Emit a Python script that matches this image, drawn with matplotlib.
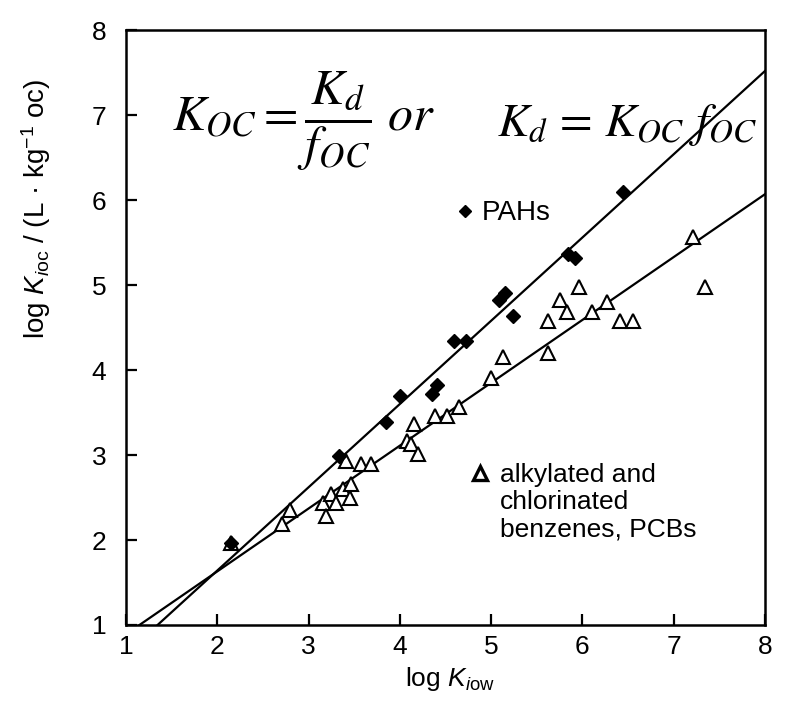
import numpy as np
import matplotlib
matplotlib.use("Agg")
import matplotlib.pyplot as plt
from matplotlib.lines import Line2D

plt.rcParams['font.family'] = ['Liberation Sans', 'DejaVu Sans']
plt.rcParams['mathtext.fontset'] = 'custom'
plt.rcParams['mathtext.rm'] = 'Liberation Sans'
plt.rcParams['mathtext.it'] = 'Liberation Sans:italic'
plt.rcParams['mathtext.bf'] = 'Liberation Sans:bold'

# ---- data (log Kow, log Koc) ----
pah_logkow = [2.15, 3.33, 3.85, 4.00, 4.35, 4.41, 4.59, 4.72, 5.09, 5.15, 5.24, 5.84, 5.92, 6.45]
pah_logkoc = [1.97, 2.99, 3.39, 3.70, 3.72, 3.82, 4.34, 4.34, 4.83, 4.91, 4.64, 5.37, 5.32, 6.10]

benz_logkow = [2.15, 2.71, 2.80, 3.16, 3.19, 3.25, 3.30, 3.38, 3.45, 3.47, 3.41, 3.58, 3.69,
               4.08, 4.12, 4.16, 4.20, 4.39, 4.52, 4.65, 5.00, 5.13, 5.62, 5.62, 5.75, 5.83,
               5.96, 6.10, 6.27, 6.41, 6.55, 7.21, 7.34]
benz_logkoc = [1.96, 2.19, 2.35, 2.43, 2.28, 2.54, 2.44, 2.60, 2.50, 2.66, 2.93, 2.90, 2.89,
               3.16, 3.13, 3.37, 3.01, 3.46, 3.46, 3.57, 3.91, 4.15, 4.20, 4.58, 4.82, 4.68,
               4.98, 4.68, 4.80, 4.58, 4.58, 5.57, 4.98]

# regression lines: log Koc = a * log Kow + b
pah_fit = (0.98, -0.32)
benz_fit = (0.74, 0.15)

x_ticks = [1, 2, 3, 4, 5, 6, 7, 8]
y_ticks = [1, 2, 3, 4, 5, 6, 7, 8]
xlim = (1, 8)
ylim = (1, 8)

fig = plt.figure(figsize=(7.87, 7.03), dpi=100)
ax = fig.add_axes([0.160, 0.111, 0.812, 0.846])

# regression lines, clipped to the axes area (start at y = 1)
for (a, b) in (pah_fit, benz_fit):
    x0 = (ylim[0] - b) / a
    xs = np.linspace(x0, xlim[1], 50)
    ax.plot(xs, a * xs + b, color='black', lw=1.6, zorder=2)

ax.plot(benz_logkow, benz_logkoc, linestyle='none', marker='^', ms=9.5,
        mfc='white', mec='black', mew=1.5, zorder=3)
ax.plot(pah_logkow, pah_logkoc, linestyle='none', marker='D', ms=7,
        mfc='black', mec='black', zorder=4)

ax.set_xlim(*xlim)
ax.set_ylim(*ylim)
ax.set_xticks(x_ticks)
ax.set_yticks(y_ticks)
ax.tick_params(direction='in', length=8, width=1.6, labelsize=19, top=False, right=False)
ax.tick_params(axis='y', pad=14)
ax.tick_params(axis='x', pad=7)
for s in ax.spines.values():
    s.set_linewidth(1.8)

ax.set_xlabel(r'log $K_{i\mathrm{ow}}$', fontsize=19)
ax.set_ylabel(r'log $K_{i\mathrm{oc}}$ / (L · kg$^{-1}$ oc)', fontsize=20)
ax.xaxis.set_label_coords(0.507, -0.068)
ax.yaxis.set_label_coords(-0.114, 0.70)

# equations
ax.text(0.278, 0.847, r'$K_{OC} = \dfrac{K_d}{f_{OC}}\ or$', transform=ax.transAxes,
        fontsize=36, ha='center', va='center', math_fontfamily='stix')
ax.text(0.784, 0.840, r'$K_d\, =\, K_{OC}\ f_{OC}$', transform=ax.transAxes,
        fontsize=34, ha='center', va='center', math_fontfamily='stix')

# keys
h_pah = Line2D([], [], linestyle='none', marker='D', ms=6.5, mfc='black', mec='black')
leg1 = ax.legend([h_pah], ['PAHs'], loc='center left', bbox_to_anchor=(0.52, 0.692),
                 frameon=False, fontsize=20, handlelength=0.5, handletextpad=0.35,
                 borderpad=0, borderaxespad=0)
ax.add_artist(leg1)
h_tri = Line2D([], [], linestyle='none', marker='^', ms=9.5, mfc='white', mec='black', mew=2.4)
h_none = Line2D([], [], linestyle='none')
ax.legend([h_tri, h_none, h_none], ['alkylated and', 'chlorinated', 'benzenes, PCBs'],
          loc='upper left', bbox_to_anchor=(0.54, 0.272), frameon=False, fontsize=19,
          handlelength=0.7, handletextpad=0.4, labelspacing=0.12,
          borderpad=0, borderaxespad=0)

fig.savefig('out.png', dpi=100, facecolor='white')
